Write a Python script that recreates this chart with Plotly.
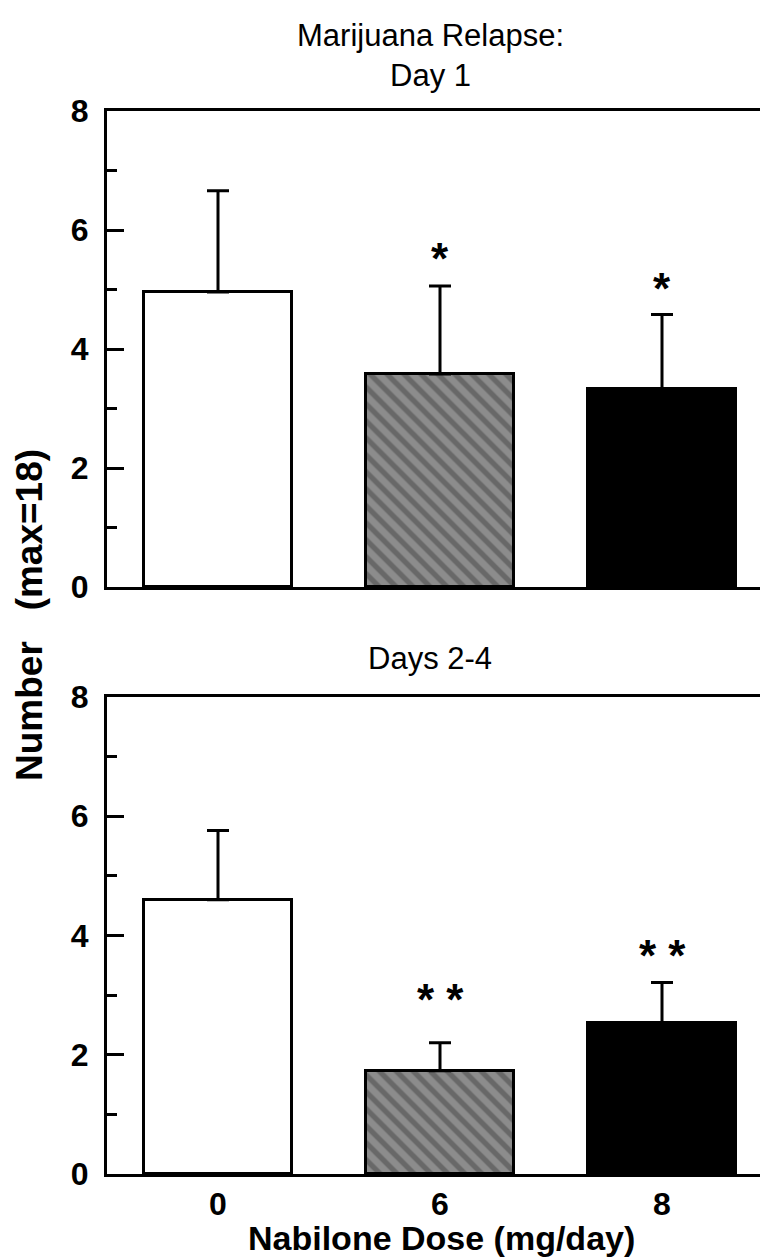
import plotly.graph_objects as go

# ---- data ----
doses = ["0", "6", "8"]
day1_mean = [4.96, 3.58, 3.33]
day1_sem = [1.70, 1.48, 1.25]
days24_mean = [4.60, 1.73, 2.54]
days24_sem = [1.16, 0.47, 0.67]
day1_stars = ["", "*", "*"]
days24_stars = ["", "* *", "* *"]
y_ticks = [0, 2, 4, 6, 8]

# ---- style ----
bar_colors = ["white", "#8c8c8c", "black"]
pattern_shapes = ["", "\\", ""]
FONT = "Liberation Sans, Arial, Helvetica, sans-serif"

# plot area in px: x 99..765, y 103..1166
W, H = 768, 1260
L, R, T, B = 99, 3, 103, 94
ph = H - T - B
pw = W - L - R
top_dom = [(1166 - 579) / ph, 1.0]
bot_dom = [0.0, (1166 - 689) / ph]

fig = go.Figure()


def add_panel(means, sems, xa, ya):
    fig.add_trace(go.Bar(
        x=list(range(len(doses))), y=means, xaxis=xa, yaxis=ya, width=0.667,
        marker=dict(color=bar_colors, line=dict(color="black", width=3),
                    pattern=dict(shape=pattern_shapes, fgcolor="#7f7f7f",
                                 size=12, solidity=0.45)),
        error_y=dict(type="data", array=sems, arrayminus=[0] * len(sems),
                     symmetric=False, color="black", thickness=3, width=11),
        showlegend=False,
    ))


add_panel(day1_mean, day1_sem, "x", "y")
add_panel(days24_mean, days24_sem, "x2", "y2")

yax = dict(range=[0, 8], tickvals=y_ticks, ticks="inside", ticklen=17, tickwidth=3,
           tickcolor="black", showline=True, linewidth=3, linecolor="black",
           mirror=True, showgrid=False, zeroline=False, automargin=False,
           tickfont=dict(family=FONT, size=32, color="black", weight="bold"),
           minor=dict(dtick=1, ticks="inside", ticklen=10, tickwidth=3, tickcolor="black"),
           ticklabelstandoff=9, fixedrange=True)
xax = dict(range=[-0.5, 2.5], showline=True, linewidth=3, linecolor="black",
           mirror=True, showgrid=False, zeroline=False, ticks="", automargin=False,
           tickvals=list(range(len(doses))), ticktext=doses,
           tickfont=dict(family=FONT, size=32, color="black", weight="bold"),
           domain=[0, 1], fixedrange=True)

fig.update_layout(
    width=W, height=H, margin=dict(l=L, r=R, t=T, b=B),
    paper_bgcolor="white", plot_bgcolor="white", bargap=0,
    xaxis=dict(xax, anchor="y", showticklabels=False),
    yaxis=dict(yax, domain=top_dom, anchor="x"),
    xaxis2=dict(xax, anchor="y2", showticklabels=True, ticklabelstandoff=0),
    yaxis2=dict(yax, domain=bot_dom, anchor="x2"),
)

annos = []
star_font = dict(family=FONT, size=44, color="black", weight="bold")
star_shift = [0, 27, 26]
for i, s in enumerate(day1_stars):
    if s:
        annos.append(dict(x=i, y=day1_mean[i] + day1_sem[i], xref="x", yref="y",
                          text=s, showarrow=False, yanchor="middle", yshift=star_shift[i],
                          font=star_font))
star_shift2 = [0, 43, 27]
for i, s in enumerate(days24_stars):
    if s:
        annos.append(dict(x=i, y=days24_mean[i] + days24_sem[i], xref="x2", yref="y2",
                          text=s, showarrow=False, yanchor="middle", yshift=star_shift2[i],
                          font=star_font))

title_font = dict(family=FONT, size=31, color="black")
annos.append(dict(x=(422 - L) / pw, y=(1166 - 48) / ph, xref="paper", yref="paper",
                  text="Marijuana Relapse:<br>Day 1", showarrow=False,
                  xanchor="center", yanchor="middle", font=title_font))
annos.append(dict(x=(422 - L) / pw, y=(1166 - 650) / ph, xref="paper", yref="paper",
                  text="Days 2-4", showarrow=False,
                  xanchor="center", yanchor="middle", font=title_font))
annos.append(dict(x=(21 - L) / pw, y=(1166 - 607) / ph, xref="paper", yref="paper",
                  text="Number   (max=18)", showarrow=False, textangle=-90,
                  xanchor="center", yanchor="middle",
                  font=dict(family=FONT, size=37, color="black", weight="bold")))
annos.append(dict(x=(433 - L) / pw, y=(1166 - 1230) / ph, xref="paper", yref="paper",
                  text="Nabilone Dose (mg/day)", showarrow=False,
                  xanchor="center", yanchor="middle",
                  font=dict(family=FONT, size=34, color="black", weight="bold")))
fig.update_layout(annotations=annos)

fig.write_html("out.html")
